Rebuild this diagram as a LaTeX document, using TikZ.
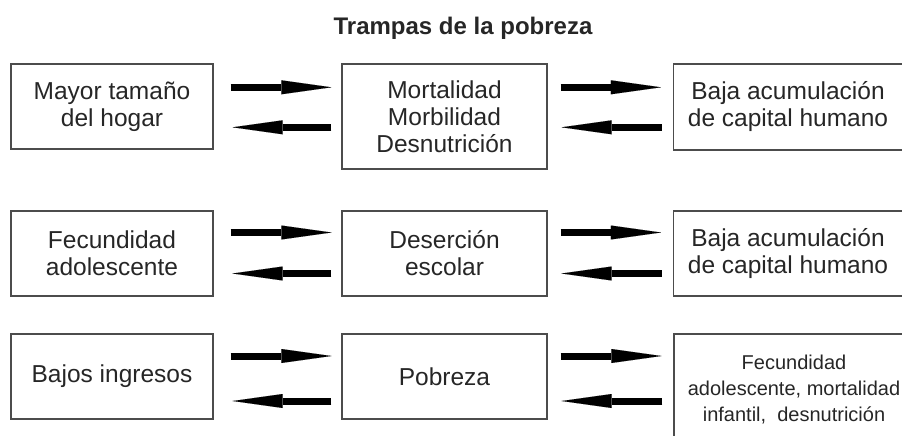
\documentclass[tikz,border=0pt]{standalone}
\usepackage{fontspec}
\setmainfont{Liberation Sans}
\usetikzlibrary{arrows.meta}
\begin{document}
\begin{tikzpicture}[x=1pt,y=-1pt,
	caja/.style={draw=black!70,line width=1.3pt,align=center,text=black!85,inner sep=0pt,font=\fontsize{24.5}{27}\selectfont},
	cajachica/.style={caja,font=\fontsize{20}{26}\selectfont},
	flecha/.style={line width=7pt,-{Triangle[length=50pt,width=14pt,line width=0.01pt]}}]
	\useasboundingbox (0,0) rectangle (902,436);
	\node[anchor=base,text=black!85,font=\bfseries\fontsize{24}{28}\selectfont] (titulo) at (463,35) {Trampas de la pobreza};
	% fila 1
	\node[caja,minimum width=202pt,minimum height=85pt] (A1) at (112,106.5) {Mayor tamaño\\del hogar};
	\node[caja,minimum width=205pt,minimum height=105pt] (B1) at (444.5,116.5) {Mortalidad\\Morbilidad\\Desnutrición};
	\node[caja,minimum width=229pt,minimum height=86pt] (C1) at (788,107) {Baja acumulación\\de capital humano};
	% fila 2
	\node[caja,minimum width=202pt,minimum height=85pt] (A2) at (112,253.5) {Fecundidad\\adolescente};
	\node[caja,minimum width=205pt,minimum height=85pt] (B2) at (444.5,253.5) {Deserción\\escolar};
	\node[caja,minimum width=229pt,minimum height=85pt] (C2) at (788,253.5) {Baja acumulación\\de capital humano};
	% fila 3
	\node[caja,minimum width=202pt,minimum height=85pt] (A3) at (112,376.5) {Bajos ingresos};
	\node[caja,minimum width=205pt,minimum height=85pt] (B3) at (444.5,376.5) {Pobreza};
	\node[cajachica,minimum width=240pt,minimum height=112pt] (C3) at (794,390) {Fecundidad\\adolescente, mortalidad\\infantil,\ \ desnutrición};
	% flechas fila 1
	\draw[flecha,shorten <=17pt,shorten >=10pt] ([yshift=19.2pt]A1.east) -- ([yshift=19.2pt]A1.east -| B1.west);
	\draw[flecha,shorten <=10pt,shorten >=19pt] ([yshift=-20.8pt]A1.east -| B1.west) -- ([yshift=-20.8pt]A1.east);
	\draw[flecha,shorten <=13pt,shorten >=12pt] ([yshift=19.2pt]A1.east -| B1.east) -- ([yshift=19.2pt]A1.east -| C1.west);
	\draw[flecha,shorten <=11pt,shorten >=14pt] ([yshift=-20.8pt]A1.east -| C1.west) -- ([yshift=-20.8pt]A1.east -| B1.east);
	% flechas fila 2
	\draw[flecha,shorten <=17pt,shorten >=10pt] ([yshift=21pt]A2.east) -- ([yshift=21pt]A2.east -| B2.west);
	\draw[flecha,shorten <=10pt,shorten >=19pt] ([yshift=-20pt]A2.east -| B2.west) -- ([yshift=-20pt]A2.east);
	\draw[flecha,shorten <=13pt,shorten >=12pt] ([yshift=21pt]A2.east -| B2.east) -- ([yshift=21pt]A2.east -| C2.west);
	\draw[flecha,shorten <=11pt,shorten >=14pt] ([yshift=-20pt]A2.east -| C2.west) -- ([yshift=-20pt]A2.east -| B2.east);
	% flechas fila 3
	\draw[flecha,shorten <=17pt,shorten >=10pt] ([yshift=20.5pt]A3.east) -- ([yshift=20.5pt]A3.east -| B3.west);
	\draw[flecha,shorten <=10pt,shorten >=19pt] ([yshift=-24.5pt]A3.east -| B3.west) -- ([yshift=-24.5pt]A3.east);
	\draw[flecha,shorten <=13pt,shorten >=12pt] ([yshift=20.5pt]A3.east -| B3.east) -- ([yshift=20.5pt]A3.east -| C3.west);
	\draw[flecha,shorten <=11pt,shorten >=14pt] ([yshift=-24.5pt]A3.east -| C3.west) -- ([yshift=-24.5pt]A3.east -| B3.east);
\end{tikzpicture}
\end{document}
